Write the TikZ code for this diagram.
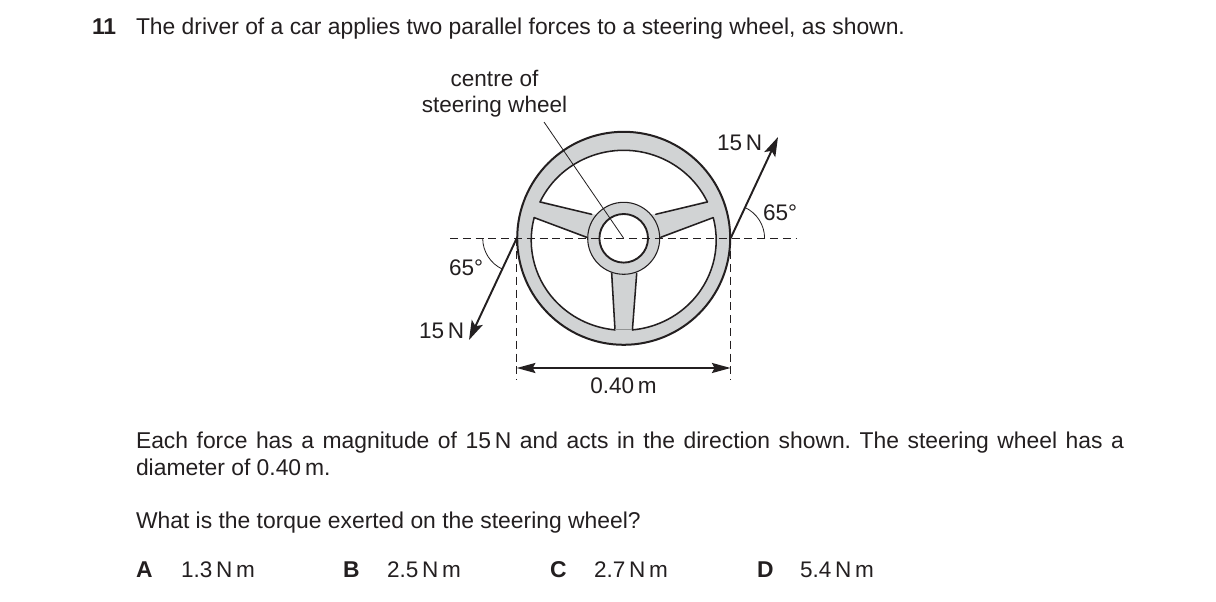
\documentclass[tikz,border=0pt]{standalone}
\usepackage{fontspec}
\usepackage{xcolor}
\setmainfont{Liberation Sans}
\usetikzlibrary{arrows.meta, calc}
\definecolor{wheelGrey}{HTML}{D1D3D4}
\definecolor{inkDark}{HTML}{231F20}
\frenchspacing

\begin{document}
\begin{tikzpicture}[x=0.75pt, y=-0.75pt, color=inkDark]
        % Styles
        \tikzstyle{txt} = [anchor=base west, inner sep=0pt, outer sep=0pt, font=\fontsize{17.15}{20.25}\selectfont, text=inkDark]
        \tikzstyle{boldtxt} = [txt, font=\fontsize{17.15}{20.25}\selectfont\bfseries]
        \tikzstyle{lbl} = [txt, font=\fontsize{16.9}{20.25}\selectfont]
        \tikzstyle{mid} = [lbl, anchor=base]
        \tikzstyle{para} = [txt, text width=741pt, align=justify]
        \tikzstyle{force} = [line width=1.45pt, -{Stealth[length=14.5pt, width=9pt, inset=3pt]}]
        \tikzstyle{span} = [line width=1.45pt, {Stealth[length=14pt, width=7.5pt, inset=2pt]}-{Stealth[length=14pt, width=7.5pt, inset=2pt]}]
        \tikzstyle{guide} = [line width=0.65pt, dash pattern=on 6pt off 3.6pt]
        \tikzstyle{thin} = [line width=0.6pt]
        \tikzstyle{edge} = [line width=1.15pt, line cap=round]

        \useasboundingbox (0,0) rectangle (1216,602);
        \fill [white] (0,0) rectangle (1216,602);

        % Question text
        \node (num) [boldtxt] at (92,35) {11};
        \node (stem) [txt] at (136,35) {The driver of a car applies two parallel forces to a steering wheel, as shown.};
        \node (info) [para] at (136,448) {Each force has a magnitude of 15\,N and acts in the direction shown. The steering wheel has a diameter of 0.40\,m.};
        \node (ask) [txt] at (136,528) {What is the torque exerted on the steering wheel?};

        % Answers
        \node (optA) [boldtxt] at (136,577) {A};
        \node (ansA) [lbl] at (181,577) {1.3\,N\,m};
        \node (optB) [boldtxt] at (343,577) {B};
        \node (ansB) [lbl] at (387,577) {2.5\,N\,m};
        \node (optC) [boldtxt] at (550,577) {C};
        \node (ansC) [lbl] at (594,577) {2.7\,N\,m};
        \node (optD) [boldtxt] at (757,577) {D};
        \node (ansD) [lbl] at (800,577) {5.4\,N\,m};

        % Wheel
        \coordinate (hub) at (623.7,238.3);
        \coordinate (eye) at (623.7,240.3);
        \fill [wheelGrey, even odd rule] (hub) circle [radius=106.5] (eye) ellipse [x radius=92.5, y radius=90];
        \fill [wheelGrey] ($(hub)+(-85,-38)$) -- ($(hub)+(-32,-24)$) -- ($(hub)+(32,-24)$) -- ($(hub)+(85,-38)$)
            -- ($(hub)+(91,-21)$) -- ($(hub)+(37,0)$) -- ($(hub)+(13,35)$) -- ($(hub)+(9,93)$) -- ($(hub)+(-9,93)$)
            -- ($(hub)+(-13,35)$) -- ($(hub)+(-37,0)$) -- ($(hub)+(-91,-21)$) -- cycle;
        \draw [line width=1.5pt] (hub) circle [radius=106.5];
        % inner edge of the rim, one piece between each pair of spokes
        \draw [edge] ($(eye)+(-154.8:92.5 and 90)$) arc [start angle=-154.8, end angle=-25.2, x radius=92.5, y radius=90];
        \draw [edge] ($(eye)+(-14.6:92.5 and 90)$) arc [start angle=-14.6, end angle=84.6, x radius=92.5, y radius=90];
        \draw [edge] ($(eye)+(194.6:92.5 and 90)$) arc [start angle=194.6, end angle=95.4, x radius=92.5, y radius=90];
        % spokes
        \draw [edge] ($(eye)+(-154.8:92.5 and 90)$) -- ($(hub)+(-32,-24)$);
        \draw [edge] ($(eye)+(-25.2:92.5 and 90)$) -- ($(hub)+(32,-24)$);
        \draw [edge] ($(eye)+(194.6:92.5 and 90)$) -- ($(hub)+(-37,-1)$);
        \draw [edge] ($(eye)+(-14.6:92.5 and 90)$) -- ($(hub)+(37,-1)$);
        \draw [edge] ($(hub)+(-12,35)$) -- ($(eye)+(95.4:92.5 and 90)$);
        \draw [edge] ($(hub)+(13,35)$) -- ($(eye)+(84.6:92.5 and 90)$);
        \draw [thin, wheelGrey!70!black] ($(eye)+(95.4:92.5 and 90)$) -- ($(eye)+(84.6:92.5 and 90)$);
        % hub and its hole
        \draw [line width=0.8pt, fill=wheelGrey] (hub) circle [radius=36];
        \draw [line width=1.4pt, fill=white] (hub) circle [radius=24.3];

        % Labels
        \node (centre1) [mid] at (494.5,86.5) {centre of};
        \node (centre2) [mid] at (494.5,113) {steering wheel};
        \coordinate (lead) at (544,122);
        \draw [thin] (lead) -- (hub);

        % Horizontal datum and width markers
        \coordinate (dashL) at (450,238.3);
        \coordinate (dashR) at (797,238.3);
        \coordinate (rimL) at (516.7,238.3);
        \coordinate (rimR) at (730.6,238.3);
        \coordinate (downL) at (516.7,380);
        \coordinate (downR) at (730.6,380);
        \coordinate (spanL) at (516.7,368);
        \coordinate (spanR) at (730.6,368);
        \draw [guide] (dashL) -- (dashR);
        \draw [guide] (rimL) -- (downL);
        \draw [guide] (rimR) -- (downR);
        \draw [span] (spanL) -- (spanR);
        \node (width) [mid] at (623.5,393) {0.40\,m};

        % Forces
        \coordinate (tipR) at (778,137);
        \coordinate (tipL) at (469,340);
        \draw [force] (rimR) -- (tipR);
        \draw [force] (rimL) -- (tipL);
        \node (forceR) [lbl] at (717,151) {15\,N};
        \node (forceL) [lbl] at (419,338) {15\,N};

        % Angles
        \draw [thin] ($(rimR)+(34,0)$) arc [start angle=0, end angle=-65, radius=34];
        \draw [thin] ($(rimL)+(-34,0)$) arc [start angle=180, end angle=115, radius=34];
        \node (angR) [lbl] at (763,221) {65°};
        \node (angL) [lbl] at (449,276) {65°};
    \end{tikzpicture}
\end{document}
